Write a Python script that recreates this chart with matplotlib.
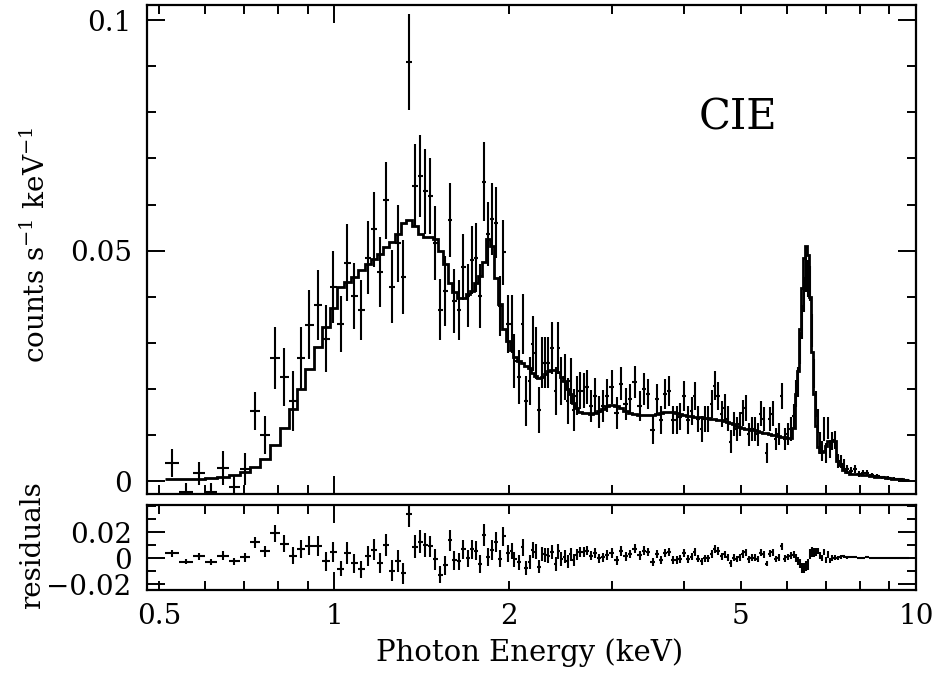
import numpy as np
import matplotlib
matplotlib.use("Agg")
import matplotlib.pyplot as plt
from matplotlib.ticker import FixedLocator, FuncFormatter, MultipleLocator

plt.rcParams['font.family'] = ['DejaVu Serif']
plt.rcParams['mathtext.fontset'] = 'dejavuserif'

# ---------------- data ----------------
energy = [0.526, 0.556, 0.586, 0.614, 0.644, 0.673, 0.703, 0.731, 0.761, 0.792,
          0.820, 0.850, 0.877, 0.906, 0.939, 0.969, 0.996,
          1.028, 1.053, 1.082, 1.113, 1.144, 1.172, 1.200, 1.229, 1.258, 1.289,
          1.314, 1.346, 1.379, 1.406, 1.434, 1.463, 1.492, 1.522, 1.553, 1.583,
          1.609, 1.641, 1.667, 1.701, 1.728, 1.755, 1.784, 1.812, 1.841, 1.870,
          1.900, 1.931, 1.954, 1.986,
          2.017, 2.041, 2.074, 2.107, 2.132, 2.166, 2.192, 2.218, 2.253, 2.280,
          2.307, 2.335, 2.372, 2.401, 2.429, 2.458, 2.488, 2.518, 2.548, 2.578,
          2.609, 2.640, 2.683, 2.715, 2.759, 2.803, 2.848, 2.893, 2.939, 2.998,
          3.058, 3.107, 3.169, 3.220, 3.284, 3.350, 3.403, 3.457, 3.527, 3.583,
          3.640, 3.699, 3.758, 3.818, 3.878, 3.925, 3.988, 4.052, 4.117,
          4.166, 4.216, 4.281, 4.334, 4.385, 4.457, 4.510, 4.564, 4.637, 4.692,
          4.749, 4.805, 4.863, 4.921, 4.980, 5.039, 5.099, 5.160, 5.222, 5.284,
          5.347, 5.410, 5.475, 5.540, 5.606, 5.672, 5.740, 5.809, 5.878, 5.948,
          6.019, 6.091, 6.164,
          6.213, 6.262, 6.312, 6.362, 6.413, 6.464, 6.515, 6.567, 6.622, 6.675,
          6.728, 6.782, 6.836, 6.890, 6.945, 7.001, 7.056, 7.113, 7.169,
          7.255, 7.342, 7.429, 7.517, 7.607, 7.729, 7.853, 7.979, 8.106, 8.236,
          8.401, 8.570, 8.741, 8.947, 9.165, 9.385, 9.612]

rate = [0.0039, -0.0024, 0.0017, -0.0024, 0.0028, -0.0013, 0.0026, 0.0152, 0.0100, 0.0267,
        0.0226, 0.0174, 0.0267, 0.0339, 0.0382, 0.0309, 0.0422,
        0.0341, 0.0474, 0.0402, 0.0372, 0.0485, 0.0546, 0.0453, 0.0609, 0.0422, 0.0516,
        0.0443, 0.0909, 0.0641, 0.0661, 0.0629, 0.0619, 0.0516, 0.0372, 0.0413, 0.0567,
        0.0391, 0.0372, 0.0464, 0.0402, 0.0480, 0.0485, 0.0402, 0.0650, 0.0536, 0.0569,
        0.0561, 0.0380, 0.0496, 0.0341,
        0.0341, 0.0261, 0.0226, 0.0341, 0.0174, 0.0217, 0.0298, 0.0278, 0.0154, 0.0257,
        0.0257, 0.0257, 0.0289, 0.0196, 0.0289, 0.0217, 0.0226, 0.0174, 0.0217, 0.0154,
        0.0185, 0.0196, 0.0196, 0.0204, 0.0163, 0.0185, 0.0150, 0.0163, 0.0185, 0.0204,
        0.0148, 0.0211, 0.0167, 0.0178, 0.0215, 0.0163, 0.0200, 0.0189, 0.0111, 0.0178,
        0.0133, 0.0189, 0.0196, 0.0133, 0.0133, 0.0140, 0.0185, 0.0133, 0.0152,
        0.0185, 0.0135, 0.0113, 0.0135, 0.0135, 0.0167, 0.0207, 0.0185, 0.0146, 0.0159,
        0.0135, 0.0085, 0.0124, 0.0113, 0.0124, 0.0148, 0.0159, 0.0102, 0.0113, 0.0113,
        0.0102, 0.0146, 0.0135, 0.0061, 0.0135, 0.0146, 0.0091, 0.0102, 0.0185, 0.0091,
        0.0102, 0.0113, 0.0141,
        0.0190, 0.0215, 0.0289, 0.0345, 0.0405, 0.0450, 0.0440, 0.0428, 0.0326, 0.0233,
        0.0167, 0.0130, 0.0083, 0.0065, 0.0113, 0.0061, 0.0115, 0.0070, 0.0087,
        0.0089, 0.0043, 0.0043, 0.0037, 0.0026, 0.0022, 0.0026, 0.0015, 0.0017, 0.0018,
        0.0013, 0.0011, 0.0008, 0.0006, 0.0005, 0.0004, 0.0002]

rate_err = [0.0030, 0.0020, 0.0025, 0.0020, 0.0037, 0.0024, 0.0034, 0.0042, 0.0042, 0.0068,
            0.0063, 0.0065, 0.0068, 0.0075, 0.0075, 0.0073, 0.0078,
            0.0060, 0.0084, 0.0071, 0.0065, 0.0079, 0.0081, 0.0076, 0.0084, 0.0080, 0.0084,
            0.0080, 0.0104, 0.0090, 0.0089, 0.0092, 0.0083, 0.0080, 0.0066, 0.0076, 0.0080,
            0.0070, 0.0065, 0.0072, 0.0068, 0.0074, 0.0074, 0.0070, 0.0085, 0.0070, 0.0078,
            0.0078, 0.0065, 0.0070, 0.0063,
            0.0063, 0.0058, 0.0058, 0.0065, 0.0055, 0.0052, 0.0060, 0.0057, 0.0050, 0.0055,
            0.0055, 0.0055, 0.0056, 0.0052, 0.0056, 0.0052, 0.0050, 0.0050, 0.0050, 0.0045,
            0.0042, 0.0040, 0.0038, 0.0037, 0.0035, 0.0038, 0.0035, 0.0035, 0.0036, 0.0036,
            0.0034, 0.0036, 0.0034, 0.0033, 0.0035, 0.0032, 0.0034, 0.0033, 0.0031, 0.0032,
            0.0031, 0.0033, 0.0033, 0.0031, 0.0030, 0.0030, 0.0032, 0.0030, 0.0030,
            0.0031, 0.0029, 0.0028, 0.0029, 0.0028, 0.0030, 0.0031, 0.0030, 0.0028, 0.0029,
            0.0027, 0.0025, 0.0027, 0.0026, 0.0026, 0.0028, 0.0028, 0.0025, 0.0026, 0.0026,
            0.0025, 0.0027, 0.0026, 0.0022, 0.0026, 0.0027, 0.0024, 0.0024, 0.0028, 0.0024,
            0.0024, 0.0025, 0.0027,
            0.0030, 0.0032, 0.0035, 0.0037, 0.0038, 0.0040, 0.0040, 0.0038, 0.0036, 0.0032,
            0.0029, 0.0026, 0.0024, 0.0022, 0.0025, 0.0021, 0.0024, 0.0020, 0.0020,
            0.0020, 0.0015, 0.0014, 0.0012, 0.0010, 0.0009, 0.0008, 0.0007, 0.0006, 0.0006,
            0.0005, 0.0005, 0.0004, 0.0004, 0.0003, 0.0003, 0.0003]

model = [0.0004, 0.0004, 0.0005, 0.0006, 0.0009, 0.0013, 0.0020, 0.0030, 0.0048, 0.0078,
         0.0115, 0.0157, 0.0200, 0.0244, 0.0290, 0.0335, 0.0376,
         0.0422, 0.0433, 0.0443, 0.0458, 0.0471, 0.0482, 0.0493, 0.0507, 0.0518, 0.0536,
         0.0559, 0.0567, 0.0554, 0.0536, 0.0530, 0.0530, 0.0525, 0.0500, 0.0470, 0.0430,
         0.0410, 0.0398, 0.0398, 0.0405, 0.0412, 0.0430, 0.0445, 0.0475, 0.0525, 0.0510,
         0.0440, 0.0385, 0.0330, 0.0305,
         0.0285, 0.0270, 0.0260, 0.0257, 0.0250, 0.0246, 0.0235, 0.0228, 0.0223, 0.0225,
         0.0232, 0.0238, 0.0241, 0.0240, 0.0237, 0.0225, 0.0217, 0.0200, 0.0189, 0.0170,
         0.0159, 0.0150, 0.0148, 0.0147, 0.0146, 0.0148, 0.0153, 0.0157, 0.0162, 0.0166,
         0.0164, 0.0158, 0.0153, 0.0148, 0.0145, 0.0143, 0.0143, 0.0143, 0.0143, 0.0145,
         0.0147, 0.0149, 0.0150, 0.0150, 0.0148, 0.0146, 0.0144, 0.0142, 0.0141,
         0.0140, 0.0139, 0.0138, 0.0137, 0.0136, 0.0135, 0.0134, 0.0133, 0.0132, 0.0131,
         0.0129, 0.0126, 0.0123, 0.0120, 0.0118, 0.0116, 0.0114, 0.0112, 0.0111, 0.0110,
         0.0109, 0.0107, 0.0105, 0.0104, 0.0102, 0.0101, 0.0099, 0.0098, 0.0096, 0.0095,
         0.0094, 0.0094, 0.0115,
         0.0190, 0.0239, 0.0330, 0.0420, 0.0485, 0.0511, 0.0490, 0.0400, 0.0280, 0.0190,
         0.0120, 0.0075, 0.0063, 0.0063, 0.0065, 0.0076, 0.0087, 0.0087, 0.0087,
         0.0087, 0.0043, 0.0035, 0.0025, 0.0020, 0.0016, 0.0015, 0.0015, 0.0014, 0.0013,
         0.0011, 0.0009, 0.0008, 0.0006, 0.0005, 0.0004, 0.0002]

main_yticks = [0.0, 0.05, 0.1]
main_ylabels = ['0', '0.05', '0.1']
res_yticks = [-0.02, 0.0, 0.02]
res_ylabels = ['\u22120.02', '0', '0.02']
x_labelled = {0.5: '0.5', 1: '1', 2: '2', 5: '5', 10: '10'}

# ---------------- derived quantities ----------------
E = np.array(energy)
R = np.array(rate)
dR = np.array(rate_err)
M = np.array(model)
logE = np.log10(E)
mids = 10 ** ((logE[:-1] + logE[1:]) / 2)
first = 10 ** (logE[0] - (logE[1] - logE[0]) / 2)
last = 10 ** (logE[-1] + (logE[-1] - logE[-2]) / 2)
edges = np.concatenate([[first], mids, [last]])
xerr = np.vstack([E - edges[:-1], edges[1:] - E])
resid = R - M

# ---------------- figure ----------------
W, H = 936, 677
fig = plt.figure(figsize=(W / 100, H / 100), dpi=100)
L, Rr = 147, 916
ax1 = fig.add_axes([L / W, 1 - 494 / H, (Rr - L) / W, (494 - 5) / H])
ax2 = fig.add_axes([L / W, 1 - 590 / H, (Rr - L) / W, (590 - 505) / H])

lw = 1.5
ax1.errorbar(E, R, yerr=dR, xerr=xerr, fmt='none', ecolor='black',
             elinewidth=lw, capsize=0)
ax1.stairs(M, edges, color='black', linewidth=2.0, baseline=None)

ax2.errorbar(E, resid, yerr=dR, xerr=xerr, fmt='none', ecolor='black',
             elinewidth=lw, capsize=0)


def xfmt(v, pos):
    for k, s in x_labelled.items():
        if abs(v - k) < 1e-6:
            return s
    return ''


for ax in (ax1, ax2):
    ax.set_xscale('log')
    ax.set_xlim(0.4766, 10.0)
    ax.xaxis.set_major_locator(FixedLocator([1, 10]))
    ax.xaxis.set_minor_locator(FixedLocator([0.5, 0.6, 0.7, 0.8, 0.9,
                                             2, 3, 4, 5, 6, 7, 8, 9]))
    ax.tick_params(which='both', direction='in', top=True, right=True,
                   width=1.4, labelsize=20, color='black')
    ax.tick_params(which='major', length=13)
    ax.tick_params(which='minor', length=6.5)
    ax.tick_params(axis='y', which='both', pad=11)
    ax.tick_params(axis='x', which='both', pad=9)
    for s in ax.spines.values():
        s.set_linewidth(1.6)

ax1.xaxis.set_major_formatter(FuncFormatter(lambda v, p: ''))
ax1.xaxis.set_minor_formatter(FuncFormatter(lambda v, p: ''))
ax2.xaxis.set_major_formatter(FuncFormatter(xfmt))
ax2.xaxis.set_minor_formatter(FuncFormatter(xfmt))

ax1.set_ylim(-0.0028, 0.1033)
ax1.yaxis.set_major_locator(FixedLocator(main_yticks))
ax1.set_yticklabels(main_ylabels)
ax1.yaxis.set_minor_locator(MultipleLocator(0.01))

ax2.set_ylim(-0.0246, 0.0408)
ax2.yaxis.set_major_locator(FixedLocator(res_yticks))
ax2.set_yticklabels(res_ylabels)
ax2.yaxis.set_minor_locator(MultipleLocator(0.01))

fig.text(36 / W, 1 - 245 / H, r'counts s$^{-1}$ keV$^{-1}$', rotation=90,
         ha='center', va='center', fontsize=20)
fig.text(33 / W, 1 - 545 / H, 'residuals', rotation=90,
         ha='center', va='center', fontsize=20)
fig.text(530 / W, 1 - 653 / H, 'Photon Energy (keV)', ha='center',
         va='center', fontsize=21)
fig.text(738 / W, 1 - 118 / H, 'CIE', ha='center', va='center', fontsize=30)

fig.savefig('out.png', dpi=100)
